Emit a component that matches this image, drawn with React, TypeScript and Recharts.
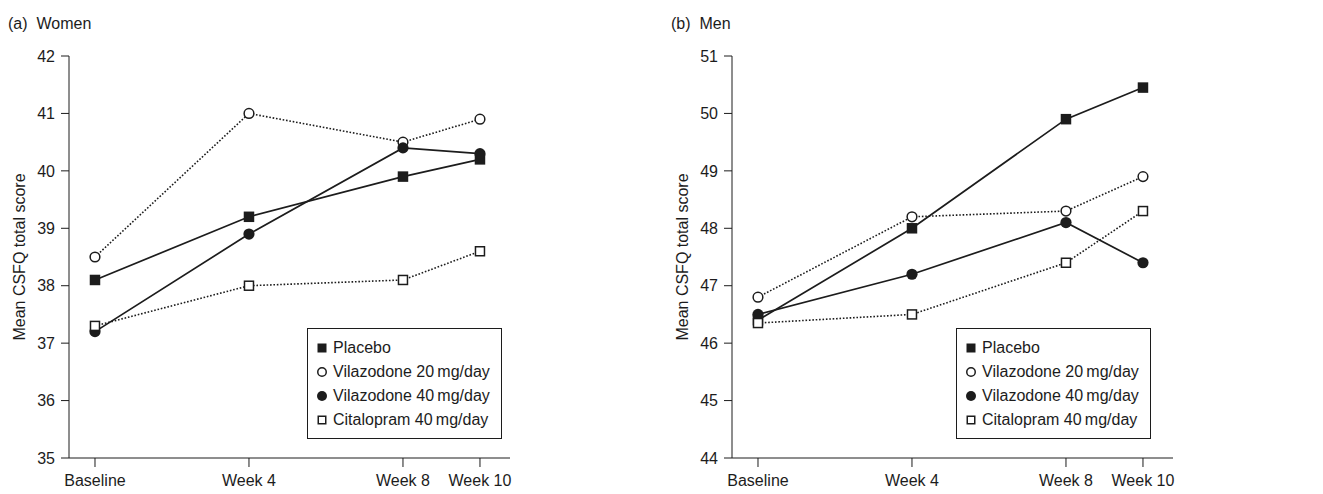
import React from 'react'
import { LineChart, Line, XAxis, YAxis, Legend } from 'recharts'

const weeks = [0, 4, 8, 10]
const weekLabels = ['Baseline', 'Week 4', 'Week 8', 'Week 10']

// (a) Women
const womenPlacebo = [38.1, 39.2, 39.9, 40.2]
const womenVila20 = [38.5, 41.0, 40.5, 40.9]
const womenVila40 = [37.2, 38.9, 40.4, 40.3]
const womenCitalopram = [37.3, 38.0, 38.1, 38.6]
const womenTicks = [35, 36, 37, 38, 39, 40, 41, 42]

// (b) Men
const menPlacebo = [46.4, 48.0, 49.9, 50.45]
const menVila20 = [46.8, 48.2, 48.3, 48.9]
const menVila40 = [46.5, 47.2, 48.1, 47.4]
const menCitalopram = [46.35, 46.5, 47.4, 48.3]
const menTicks = [44, 45, 46, 47, 48, 49, 50, 51]

const INK = '#1c1c1c'
const FONT = '"Liberation Sans", Arial, sans-serif'
const FS = 16

type Shape = 'filledSquare' | 'openCircle' | 'filledCircle' | 'openSquare'

// drawing order (back to front); legend order is kept separately
const series: Array<{ key: string; name: string; shape: Shape; dotted: boolean }> = [
  { key: 'vila20', name: 'Vilazodone 20\u2009mg/day', shape: 'openCircle', dotted: true },
  { key: 'placebo', name: 'Placebo', shape: 'filledSquare', dotted: false },
  { key: 'vila40', name: 'Vilazodone 40\u2009mg/day', shape: 'filledCircle', dotted: false },
  { key: 'citalopram', name: 'Citalopram 40\u2009mg/day', shape: 'openSquare', dotted: true },
]
const legendOrder = ['placebo', 'vila20', 'vila40', 'citalopram']

function buildRows(p: number[], v20: number[], v40: number[], c: number[]) {
  return weeks.map((w, i) => ({ week: w, placebo: p[i], vila20: v20[i], vila40: v40[i], citalopram: c[i] }))
}

function Marker({ shape, cx, cy, big = true }: { shape: Shape; cx: number; cy: number; big?: boolean }) {
  const s = big ? 10.5 : 9
  const r = big ? 5.6 : 5
  if (shape === 'filledSquare') return <rect x={cx - s / 2} y={cy - s / 2} width={s} height={s} fill={INK} />
  if (shape === 'openSquare') return <rect x={cx - s / 2 + 0.75} y={cy - s / 2 + 0.75} width={s - 1.5} height={s - 1.5} fill="#fff" stroke={INK} strokeWidth={1.5} />
  if (shape === 'filledCircle') return <circle cx={cx} cy={cy} r={r} fill={INK} />
  return <circle cx={cx} cy={cy} r={r - 0.75} fill="#fff" stroke={INK} strokeWidth={1.5} />
}

const dotFor = (shape: Shape) => (props: any) => {
  const { cx, cy, index } = props
  if (cx == null || cy == null) return <g key={index} />
  return <g key={index}><Marker shape={shape} cx={cx} cy={cy} /></g>
}

function LegendBox() {
  return (
    <div style={{ border: `1.5px solid ${INK}`, background: '#fff', padding: '7px 4px 7px 7px', fontFamily: FONT, fontSize: FS, color: INK, boxSizing: 'border-box', width: 195, height: 111, whiteSpace: 'nowrap' }}>
      {legendOrder.map(k => {
        const s = series.find(x => x.key === k)!
        return (
          <div key={k} style={{ display: 'flex', alignItems: 'center', height: 24 }}>
            <svg width={16} height={16} style={{ marginRight: 2, flexShrink: 0 }}>
              <Marker shape={s.shape} cx={7} cy={8} big={false} />
            </svg>
            <span>{s.name}</span>
          </div>
        )
      })}
    </div>
  )
}

function Panel({ title, rows, ticks, legendLeft }: { title: string; rows: any[]; ticks: number[]; legendLeft: number }) {
  return (
    <div style={{ position: 'relative', width: 660, height: 494 }}>
      <div style={{ position: 'absolute', left: 8, top: 15, fontFamily: FONT, fontSize: FS, color: INK, whiteSpace: 'pre' }}>{title}</div>
      <LineChart width={660} height={494} data={rows} margin={{ top: 56, right: 150, bottom: 6, left: 9 }}>
        <XAxis
          dataKey="week"
          type="number"
          domain={[-0.675, 10.78]}
          ticks={weeks}
          tickFormatter={(v: number) => weekLabels[weeks.indexOf(v)]}
          height={30}
          tickSize={9}
          tickMargin={8}
          stroke={INK}
          tick={{ fill: INK, fontSize: FS, fontFamily: FONT }}
          allowDataOverflow
        />
        <YAxis
          type="number"
          domain={[ticks[0], ticks[ticks.length - 1]]}
          ticks={ticks}
          width={60}
          tickSize={8}
          tickMargin={6}
          stroke={INK}
          tick={{ fill: INK, fontSize: FS, fontFamily: FONT }}
          label={{ value: 'Mean CSFQ total score', angle: -90, position: 'insideLeft', offset: 10, style: { textAnchor: 'middle', fill: INK, fontSize: FS, fontFamily: FONT } }}
        />
        <Legend
          layout="vertical"
          verticalAlign="middle"
          align="center"
          wrapperStyle={{ left: legendLeft, top: 328, width: 195 }}
          content={() => <LegendBox />}
        />
        {series.map(s => (
          <Line
            key={s.key}
            dataKey={s.key}
            name={s.name}
            stroke={INK}
            strokeWidth={s.dotted ? 1.6 : 1.7}
            strokeDasharray={s.dotted ? '1.6 1.8' : undefined}
            dot={dotFor(s.shape)}
            activeDot={false}
            isAnimationActive={false}
            type="linear"
          />
        ))}
      </LineChart>
    </div>
  )
}

export default function App() {
  return (
    <div style={{ position: 'absolute', left: 0, top: 0, width: 1323, height: 494, background: '#fff', display: 'flex' }}>
      <Panel title={'(a)  Women'} rows={buildRows(womenPlacebo, womenVila20, womenVila40, womenCitalopram)} ticks={womenTicks} legendLeft={307} />
      <div style={{ width: 9 }} />
      <Panel title={'(b)  Men'} rows={buildRows(menPlacebo, menVila20, menVila40, menCitalopram)} ticks={menTicks} legendLeft={293} />
    </div>
  )
}
